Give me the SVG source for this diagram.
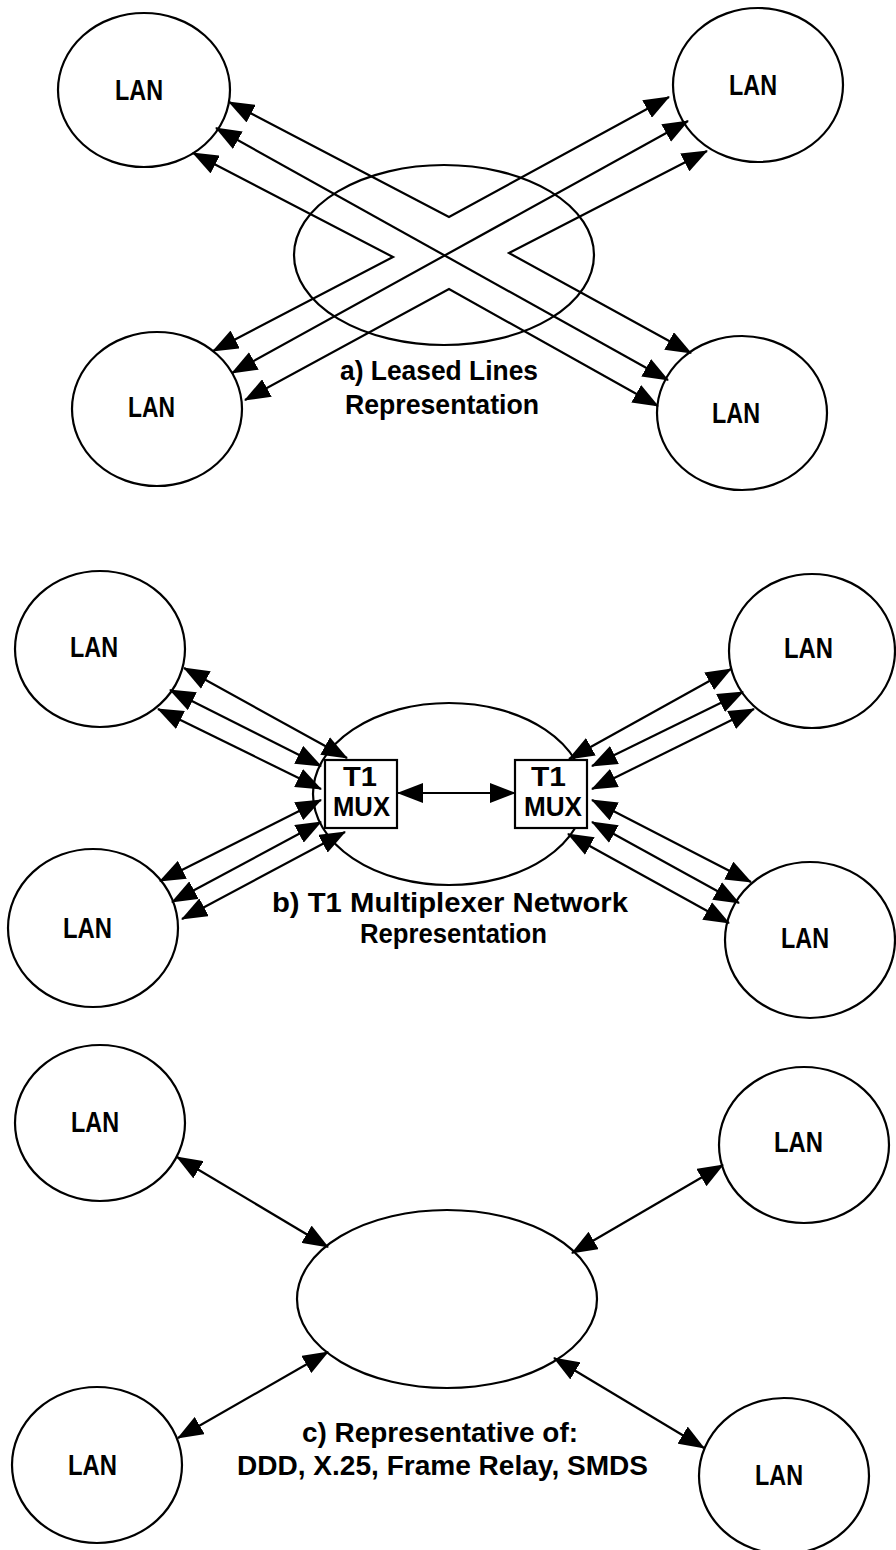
<svg xmlns="http://www.w3.org/2000/svg" width="896" height="1550" viewBox="0 0 896 1550">
  <style>
    .lan { fill: none; stroke: #000; stroke-width: 2.2; }
    .net { fill: none; stroke: #000; stroke-width: 2.2; }
    .mux { fill: #fff; stroke: #000; stroke-width: 2.2; }
    .lbl { font-family: "Liberation Sans", Arial, sans-serif; font-weight: bold; fill: #000; }
    .lanText { font-size: 30px; }
    .cap { font-size: 27px; }
    .capA { font-size: 28px; }
    .link { fill: none; stroke: #000; stroke-width: 2.2; marker-start: url(#head); marker-end: url(#head); }
  </style>
  <defs>
    <marker id="head" viewBox="0 0 26 20" refX="25" refY="10" markerWidth="26" markerHeight="20" markerUnits="userSpaceOnUse" orient="auto-start-reverse">
      <path d="M0,0 L26,10 L0,20 z" fill="#000"/>
    </marker>
  </defs>
  <rect width="896" height="1550" fill="#fff"/>

  <!-- backbone clouds -->
  <g id="cloud-a"><ellipse class="net" cx="444" cy="255" rx="150" ry="90"/></g>
  <g id="cloud-b"><ellipse class="net" cx="449" cy="794" rx="136" ry="91"/></g>
  <g id="cloud-c"><ellipse class="net" cx="447" cy="1299" rx="150" ry="89"/></g>

  <g id="connectors">
    <!-- a) leased lines: full mesh -->
    <polyline class="link" points="229,102 449,217 669,97"/>
    <polyline class="link" points="216,128 668,380"/>
    <polyline class="link" points="193,153 393,257 213,351"/>
    <polyline class="link" points="232,373 688,121"/>
    <polyline class="link" points="245,400 449,289 658,406"/>
    <polyline class="link" points="707,151 509,253 691,353"/>

    <!-- b) T1 multiplexer network -->
    <line class="link" x1="184" y1="668" x2="347" y2="758"/>
    <line class="link" x1="170" y1="690" x2="321" y2="766"/>
    <line class="link" x1="158" y1="709" x2="321" y2="789"/>
    <line class="link" x1="160" y1="881" x2="321" y2="800"/>
    <line class="link" x1="172" y1="902" x2="321" y2="822"/>
    <line class="link" x1="182" y1="919" x2="345" y2="832"/>
    <line class="link" x1="731" y1="669" x2="569" y2="759"/>
    <line class="link" x1="743" y1="692" x2="592" y2="766"/>
    <line class="link" x1="754" y1="709" x2="592" y2="789"/>
    <line class="link" x1="751" y1="882" x2="592" y2="800"/>
    <line class="link" x1="739" y1="903" x2="592" y2="822"/>
    <line class="link" x1="729" y1="923" x2="568" y2="834"/>
    <line class="link" x1="398" y1="793" x2="515" y2="793"/>

    <!-- c) switched service -->
    <line class="link" x1="177" y1="1157" x2="328" y2="1247"/>
    <line class="link" x1="178" y1="1438" x2="328" y2="1352"/>
    <line class="link" x1="723" y1="1165" x2="572" y2="1253"/>
    <line class="link" x1="704" y1="1448" x2="554" y2="1358"/>
  </g>

  <!-- a) nodes -->
  <g id="a-lan-tl"><ellipse class="lan" cx="144" cy="90" rx="86" ry="77"/><text class="lbl lanText" x="115" y="100" textLength="48" lengthAdjust="spacingAndGlyphs">LAN</text></g>
  <g id="a-lan-bl"><ellipse class="lan" cx="157" cy="409" rx="85" ry="77"/><text class="lbl lanText" x="128" y="417" textLength="47" lengthAdjust="spacingAndGlyphs">LAN</text></g>
  <g id="a-lan-tr"><ellipse class="lan" cx="758" cy="85" rx="85" ry="77"/><text class="lbl lanText" x="729" y="95" textLength="48" lengthAdjust="spacingAndGlyphs">LAN</text></g>
  <g id="a-lan-br"><ellipse class="lan" cx="742" cy="413" rx="85" ry="77"/><text class="lbl lanText" x="712" y="423" textLength="48" lengthAdjust="spacingAndGlyphs">LAN</text></g>
  <g id="a-caption">
    <text class="lbl capA" x="340" y="380" textLength="198" lengthAdjust="spacingAndGlyphs">a) Leased Lines</text>
    <text class="lbl capA" x="345" y="414" textLength="194" lengthAdjust="spacingAndGlyphs">Representation</text>
  </g>

  <!-- b) nodes -->
  <g id="b-lan-tl"><ellipse class="lan" cx="100" cy="649" rx="85" ry="78"/><text class="lbl lanText" x="70" y="657" textLength="48" lengthAdjust="spacingAndGlyphs">LAN</text></g>
  <g id="b-lan-bl"><ellipse class="lan" cx="93" cy="928" rx="85" ry="79"/><text class="lbl lanText" x="63" y="938" textLength="49" lengthAdjust="spacingAndGlyphs">LAN</text></g>
  <g id="b-lan-tr"><ellipse class="lan" cx="812" cy="651" rx="83" ry="77"/><text class="lbl lanText" x="784" y="658" textLength="49" lengthAdjust="spacingAndGlyphs">LAN</text></g>
  <g id="b-lan-br"><ellipse class="lan" cx="810" cy="940" rx="85" ry="78"/><text class="lbl lanText" x="781" y="948" textLength="48" lengthAdjust="spacingAndGlyphs">LAN</text></g>
  <g id="b-mux-left">
    <rect class="mux" x="325" y="760" width="72" height="68"/>
    <text class="lbl cap" x="343" y="786" textLength="34" lengthAdjust="spacingAndGlyphs">T1</text>
    <text class="lbl cap" x="333" y="816" textLength="57" lengthAdjust="spacingAndGlyphs">MUX</text>
  </g>
  <g id="b-mux-right">
    <rect class="mux" x="515" y="760" width="72" height="68"/>
    <text class="lbl cap" x="531" y="786" textLength="35" lengthAdjust="spacingAndGlyphs">T1</text>
    <text class="lbl cap" x="524" y="816" textLength="58" lengthAdjust="spacingAndGlyphs">MUX</text>
  </g>
  <g id="b-caption">
    <text class="lbl cap" x="272" y="912" textLength="356" lengthAdjust="spacingAndGlyphs">b) T1 Multiplexer Network</text>
    <text class="lbl cap" x="360" y="943" textLength="187" lengthAdjust="spacingAndGlyphs">Representation</text>
  </g>

  <!-- c) nodes -->
  <g id="c-lan-tl"><ellipse class="lan" cx="100" cy="1123" rx="85" ry="78"/><text class="lbl lanText" x="71" y="1132" textLength="48" lengthAdjust="spacingAndGlyphs">LAN</text></g>
  <g id="c-lan-bl"><ellipse class="lan" cx="97" cy="1465" rx="85" ry="78"/><text class="lbl lanText" x="68" y="1475" textLength="49" lengthAdjust="spacingAndGlyphs">LAN</text></g>
  <g id="c-lan-tr"><ellipse class="lan" cx="804" cy="1145" rx="85" ry="78"/><text class="lbl lanText" x="774" y="1152" textLength="49" lengthAdjust="spacingAndGlyphs">LAN</text></g>
  <g id="c-lan-br"><ellipse class="lan" cx="784" cy="1476" rx="85" ry="78"/><text class="lbl lanText" x="755" y="1485" textLength="48" lengthAdjust="spacingAndGlyphs">LAN</text></g>
  <g id="c-caption">
    <text class="lbl cap" x="302" y="1442" textLength="276" lengthAdjust="spacingAndGlyphs">c) Representative of:</text>
    <text class="lbl cap" x="237" y="1475" textLength="411" lengthAdjust="spacingAndGlyphs">DDD, X.25, Frame Relay, SMDS</text>
  </g>
</svg>
